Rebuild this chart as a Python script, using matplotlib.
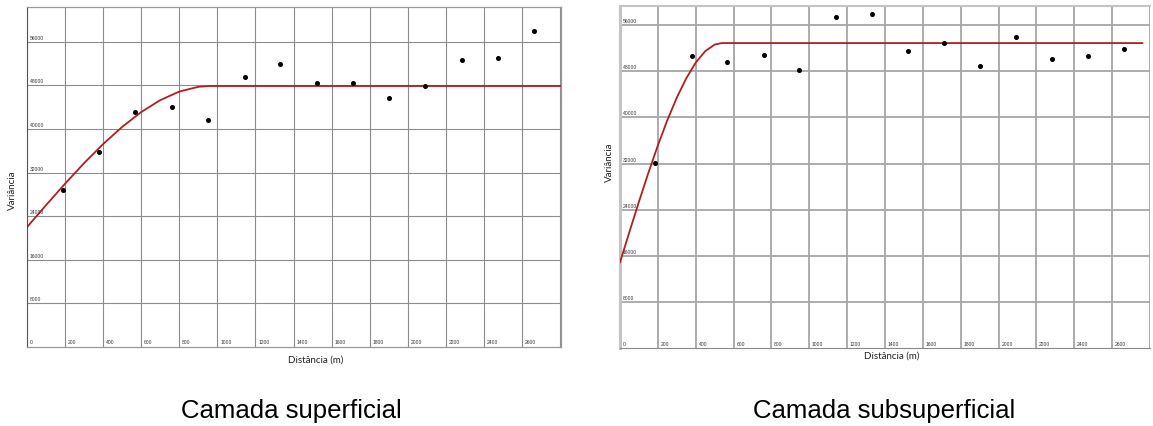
import matplotlib
matplotlib.use('Agg')
import matplotlib.pyplot as plt

# Camada superficial: experimental variogram
sup_dist = [189, 380, 569, 762, 951, 1143, 1330, 1521, 1711, 1903, 2092, 2283, 2472, 2663]
sup_var = [28830, 35860, 43150, 44120, 41630, 49630, 51960, 48530, 48530, 45780, 47980, 52700, 53070, 58020]
# fitted model
sup_mod_dist = [0, 100, 200, 300, 400, 500, 600, 700, 800, 900, 960, 2805]
sup_mod_var = [22000, 26030, 29980, 33750, 37250, 40400, 43120, 45310, 46880, 47750, 47900, 47900]

# Camada subsuperficial
sub_dist = [187, 378, 567, 759, 948, 1139, 1330, 1520, 1711, 1900, 2090, 2283, 2474, 2664]
sub_var = [32090, 50570, 49640, 50800, 48200, 57430, 57950, 51490, 52820, 48890, 53860, 50050, 50570, 51890]
sub_mod_dist = [0, 50, 100, 150, 200, 250, 300, 350, 400, 450, 500, 537, 2760]
sub_mod_var = [14900, 20190, 25390, 30400, 35140, 39510, 43420, 46770, 49490, 51470, 52620, 52880, 52880]

x_ticks = [0, 200, 400, 600, 800, 1000, 1200, 1400, 1600, 1800, 2000, 2200, 2400, 2600]
y_ticks = [8000, 16000, 24000, 32000, 40000, 48000, 56000]

fig = plt.figure(figsize=(11.53, 4.27), dpi=100)
W, H = 1153, 427


def make_axes(left, top, right, bottom):
    return fig.add_axes([left / W, 1 - bottom / H, (right - left) / W, (bottom - top) / H])


def draw(ax, dist, var, mdist, mvar, xmax, ymax, gcol, glw):
    ax.set_xlim(0, xmax)
    ax.set_ylim(0, ymax)
    ax.set_xticks(x_ticks + [2800])
    ax.set_yticks(y_ticks)
    ax.grid(True, color=gcol, linewidth=glw)
    ax.tick_params(length=0, labelbottom=False, labelleft=False)
    ax.plot(mdist, mvar, color='#b01e1e', linewidth=1.3, zorder=3)
    ax.plot(dist, var, 'o', color='black', markersize=2.6, zorder=4)
    for v in x_ticks:
        ax.annotate(str(v), xy=(v, 0), xycoords=ax.get_xaxis_transform(),
                    xytext=(2, 2), textcoords='offset points', ha='left', va='bottom',
                    fontsize=3.6, family='Liberation Sans', color='#333333')
    for v in y_ticks:
        ax.annotate(str(v), xy=(0, v), xycoords=ax.get_yaxis_transform(),
                    xytext=(2, 1.5), textcoords='offset points', ha='left', va='bottom',
                    fontsize=3.6, family='Liberation Sans', color='#333333')


ax1 = make_axes(27, 8, 561, 348)
draw(ax1, sup_dist, sup_var, sup_mod_dist, sup_mod_var, 2805, 62400, '#8c8c8c', 0.8)
ax1.spines['left'].set_color('#555555')
for s in ['top', 'right', 'bottom']:
    ax1.spines[s].set_color('#999999')
    ax1.spines[s].set_linewidth(0.9)

ax2 = make_axes(620, 7, 1150, 349.3)
draw(ax2, sub_dist, sub_var, sub_mod_dist, sub_mod_var, 2760, 59300, '#a6a6a6', 1.3)
ax2.spines['left'].set_color('#c4c4c4')
ax2.spines['left'].set_linewidth(2.2)
ax2.spines['top'].set_color('#c4c4c4')
ax2.spines['top'].set_linewidth(1.5)
ax2.spines['bottom'].set_color('#8a8a8a')
ax2.spines['right'].set_visible(False)

lab = dict(fontsize=7, family='Lato', color='#222222')
fig.text(316 / W, 1 - 360 / H, 'Distância (m)', ha='center', va='center', **lab)
fig.text(892 / W, 1 - 356 / H, 'Distância (m)', ha='center', va='center', **lab)
fig.text(12 / W, 1 - 190 / H, 'Variância', ha='center', va='center', rotation=90, **lab)
fig.text(609 / W, 1 - 162 / H, 'Variância', ha='center', va='center', rotation=90, **lab)

cap = dict(fontsize=18.5, family='Liberation Sans', color='black')
fig.text(291 / W, 1 - 411 / H, 'Camada superficial', ha='center', va='center', **cap)
fig.text(884 / W, 1 - 411 / H, 'Camada subsuperficial', ha='center', va='center', **cap)

fig.savefig('out.png', dpi=100)
